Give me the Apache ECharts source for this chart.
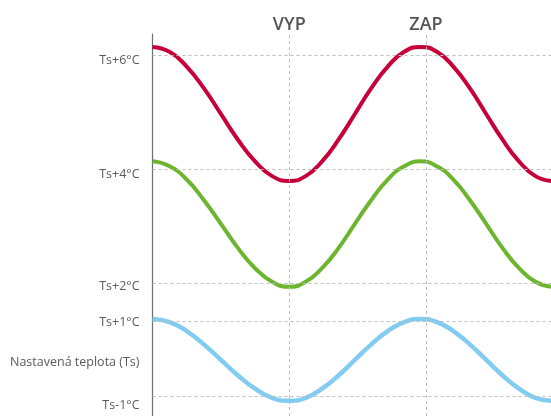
<!DOCTYPE html>
<html>
<head>
<meta charset="utf-8">
<script src="https://cdn.jsdelivr.net/npm/echarts@6/dist/echarts.min.js"></script>
<style>
html,body{margin:0;padding:0;background:#fff;}
#c{width:551px;height:416px;}
</style>
</head>
<body>
<div id="c"></div>
<script>
// y positions: 0 = Ts-1, 1 = Ts, 2 = Ts+1, 3 = Ts+2, 6 = Ts+4, 9 = Ts+6
var tickValues = [0, 1, 2, 3, 6, 9];
var tickLabels = ['Ts-1°C', 'Nastavená teplota (Ts)', 'Ts+1°C', 'Ts+2°C', 'Ts+4°C', 'Ts+6°C'];
var gridValues = [0, 2, 3, 6, 9];
var switchX = [1, 2];
var switchLabels = ['VYP', 'ZAP'];

var xs = [0, 0.125, 0.25, 0.375, 0.5, 0.625, 0.75, 0.875, 1.0,
          1.12, 1.24, 1.36, 1.48, 1.60, 1.72, 1.84, 1.96,
          2.08, 2.20, 2.32, 2.44, 2.56, 2.68, 2.80, 2.92];
var red = [9.23, 9.10, 8.71, 8.14, 7.46, 6.78, 6.21, 5.82, 5.69,
           5.82, 6.21, 6.78, 7.46, 8.14, 8.71, 9.10, 9.23,
           9.10, 8.71, 8.14, 7.46, 6.78, 6.21, 5.82, 5.69];
var green = [6.21, 6.08, 5.73, 5.19, 4.56, 3.92, 3.39, 3.03, 2.90,
             3.03, 3.39, 3.92, 4.56, 5.19, 5.73, 6.08, 6.21,
             6.08, 5.73, 5.19, 4.56, 3.92, 3.39, 3.03, 2.90];
var blue = [2.05, 1.97, 1.73, 1.38, 0.97, 0.56, 0.21, -0.03, -0.11,
            -0.03, 0.21, 0.56, 0.97, 1.38, 1.73, 1.97, 2.05,
            1.97, 1.73, 1.38, 0.97, 0.56, 0.21, -0.03, -0.11];

function pairs(ys){ return xs.map(function(x,i){ return [x, ys[i]]; }); }

var labelPad = {0: 17, 1: 8, 2: 3, 3: 7, 6: 10, 9: 9};
var rich = {};
tickValues.forEach(function(v){
  rich['p' + v] = {padding: [labelPad[v], 0, 0, 0], fontSize: 12.5, color: '#5a5a5a', fontFamily: 'Open Sans'};
});

var gridLines = gridValues.map(function(v){ return {yAxis: v}; });
var vLines = switchX.map(function(x, i){
  return {xAxis: x, label: {formatter: switchLabels[i]}};
});

var chart = echarts.init(document.getElementById('c'));
chart.setOption({
  animation: false,
  grid: {left: 152.5, right: 0, top: 34, bottom: 0},
  xAxis: {type: 'value', min: 0, max: 2.914, show: false},
  yAxis: {
    type: 'value', min: -0.51, max: 9.57,
    axisLine: {show: true, lineStyle: {color: '#6e6e6e', width: 1.2}},
    axisTick: {show: false},
    splitLine: {show: false},
    axisLabel: {
      customValues: tickValues,
      margin: 13,
      fontFamily: 'Open Sans',
      fontSize: 12.5,
      color: '#5a5a5a',
      formatter: function(v){
        var i = tickValues.indexOf(v);
        return i < 0 ? '' : '{p' + v + '|' + tickLabels[i] + '}';
      },
      rich: rich
    }
  },
  series: [
    {
      type: 'line', data: [], z: 1, silent: true,
      markLine: {
        symbol: 'none', silent: true, animation: false,
        lineStyle: {color: '#bdbdbd', type: [3, 3], width: 1},
        label: {show: false},
        data: gridLines
      }
    },
    {
      type: 'line', data: [], z: 1, silent: true,
      markLine: {
        symbol: 'none', silent: true, animation: false,
        lineStyle: {color: '#bdbdbd', type: [3, 3], width: 1},
        label: {show: true, position: 'end', distance: 0, color: '#555', fontSize: 18, fontWeight: 600, fontFamily: 'Open Sans'},
        data: vLines
      }
    },
    {type: 'line', data: pairs(red), smooth: true, showSymbol: false, z: 3,
     lineStyle: {color: '#c8003a', width: 4}},
    {type: 'line', data: pairs(green), smooth: true, showSymbol: false, z: 3,
     lineStyle: {color: '#6db52e', width: 4}},
    {type: 'line', data: pairs(blue), smooth: true, showSymbol: false, z: 3,
     lineStyle: {color: '#82ccf2', width: 4.5}}
  ]
});
</script>
</body>
</html>
